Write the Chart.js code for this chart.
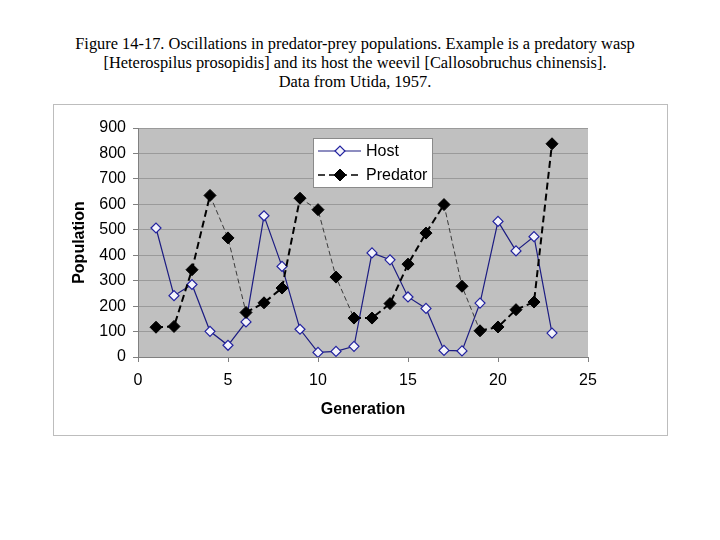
<!DOCTYPE html>
<html>
<head>
<meta charset="utf-8">
<title>Predator-prey oscillations</title>
<script src="https://cdn.jsdelivr.net/npm/chart.js@4.4.1/dist/chart.umd.min.js"></script>
<style>
    html, body { margin: 0; padding: 0; background: #fff; }
    #page { position: relative; width: 720px; height: 540px; overflow: hidden; }
    #caption {
        position: absolute; left: 0; top: 34px; width: 710px;
        text-align: center; font-family: "Liberation Serif", "Times New Roman", serif;
        font-size: 16.4px; line-height: 19px; color: #000;
    }
    #frame {
        position: absolute; left: 53px; top: 104px; width: 613px; height: 330px;
        border: 1px solid #bdbdbd;
    }
    #chart { position: absolute; left: 0; top: 0; }
</style>
</head>
<body>
<div id="page">
    <div id="caption">
        Figure 14-17. Oscillations in predator-prey populations. Example is a predatory wasp<br>
        [Heterospilus prosopidis] and its host the weevil [Callosobruchus chinensis].<br>
        Data from Utida, 1957.
    </div>
    <div id="frame"></div>
    <canvas id="chart" width="720" height="540"></canvas>
</div>
<script>
// Values
const generations = [1, 2, 3, 4, 5, 6, 7, 8, 9, 10, 11, 12, 13, 14, 15, 16, 17, 18, 19, 20, 21, 22, 23];
const hostValues = [507, 241, 285, 101, 46, 138, 555, 356, 109, 18, 22, 42, 409, 382, 236, 191, 26, 24, 212, 533, 417, 473, 94];
const predatorValues = [117, 120, 343, 635, 468, 175, 213, 271, 624, 579, 314, 153, 153, 210, 365, 487, 599, 278, 103, 118, 186, 216, 838];
const yTicks = [0, 100, 200, 300, 400, 500, 600, 700, 800, 900];
const xTicks = [0, 5, 10, 15, 20, 25];

const toPoints = (xs, ys) => xs.map((x, i) => ({ x: x, y: ys[i] }));

const FONT = '"Liberation Sans", Arial, sans-serif';
const HOST_COLOR = '#1c1c82';

// gray plot area like the old spreadsheet default
const plotBackground = {
    id: 'plotBackground',
    beforeDraw: (chart) => {
        const { ctx, chartArea: { left, top, right, bottom } } = chart;
        ctx.save();
        ctx.fillStyle = '#c0c0c0';
        ctx.fillRect(left, top, right - left, bottom - top);
        ctx.restore();
    }
};

// legend box sitting inside the plot area
const insideLegend = {
    id: 'insideLegend',
    afterDraw: (chart) => {
        const { ctx } = chart;
        const box = { x: 313, y: 138, w: 119, h: 49 };
        ctx.save();
        ctx.fillStyle = '#ffffff';
        ctx.fillRect(box.x, box.y, box.w, box.h);
        ctx.strokeStyle = '#8a8a8a';
        ctx.lineWidth = 1;
        ctx.strokeRect(box.x + 0.5, box.y + 0.5, box.w, box.h);

        chart.data.datasets.forEach((ds, i) => {
            const rowY = box.y + 13 + i * 24;
            ctx.save();
            ctx.strokeStyle = ds.borderColor;
            ctx.lineWidth = i === 0 ? 1.2 : 1.6;
            ctx.setLineDash(ds.borderDash || []);
            ctx.beginPath();
            ctx.moveTo(box.x + 5, rowY);
            ctx.lineTo(box.x + 48, rowY);
            ctx.stroke();
            ctx.restore();

            if (Chart.helpers && Chart.helpers.drawPoint) {
                ctx.save();
                ctx.fillStyle = ds.pointBackgroundColor;
                ctx.strokeStyle = ds.pointBorderColor;
                ctx.lineWidth = ds.pointBorderWidth;
                Chart.helpers.drawPoint(ctx, {
                    pointStyle: 'rectRot',
                    radius: ds.pointRadius,
                    rotation: 0,
                    borderWidth: ds.pointBorderWidth
                }, box.x + 27, rowY);
                ctx.restore();
            }

            ctx.fillStyle = '#000';
            ctx.font = '16px ' + FONT;
            ctx.textBaseline = 'middle';
            ctx.textAlign = 'left';
            ctx.fillText(ds.label, box.x + 53, rowY + 1);
        });
        ctx.restore();
    }
};

const config = {
    type: 'scatter',
    data: {
        datasets: [
            {
                label: 'Host',
                data: toPoints(generations, hostValues),
                showLine: true,
                borderColor: HOST_COLOR,
                borderWidth: 1.2,
                tension: 0,
                pointStyle: 'rectRot',
                pointRadius: 5,
                pointBorderWidth: 1.2,
                pointBackgroundColor: '#f4f4fb',
                pointBorderColor: '#2222a0',
                order: 2
            },
            {
                label: 'Predator',
                data: toPoints(generations, predatorValues),
                showLine: true,
                borderColor: '#000000',
                borderWidth: 2,
                borderDash: [7, 4],
                tension: 0,
                pointStyle: 'rectRot',
                pointRadius: 6,
                pointBorderWidth: 1,
                pointBackgroundColor: '#000000',
                pointBorderColor: '#000000',
                order: 1,
                // falling stretches come out thin and gray in the original scan
                segment: {
                    borderWidth: ctx => ctx.p1.parsed.y < ctx.p0.parsed.y - 40 ? 1 : 2,
                    borderColor: ctx => ctx.p1.parsed.y < ctx.p0.parsed.y - 40 ? '#3a3a3a' : '#000000',
                    borderDash: ctx => ctx.p1.parsed.y < ctx.p0.parsed.y - 40 ? [5, 3] : [7, 4]
                }
            }
        ]
    },
    options: {
        responsive: false,
        animation: false,
        layout: {
            padding: { left: 66, top: 128, right: 132, bottom: 117 }
        },
        scales: {
            x: {
                type: 'linear',
                min: 0,
                max: 25,
                afterBuildTicks: (scale) => { scale.ticks = xTicks.map(v => ({ value: v })); },
                afterFit: (scale) => { scale.height = 66; },
                grid: {
                    drawOnChartArea: false,
                    tickLength: 5,
                    tickColor: '#808080'
                },
                border: { color: '#808080', width: 1 },
                ticks: {
                    padding: 9,
                    color: '#000',
                    font: { family: FONT, size: 16 }
                },
                title: {
                    display: true,
                    text: 'Generation',
                    color: '#000',
                    font: { family: FONT, size: 16, weight: 'bold' }
                }
            },
            y: {
                type: 'linear',
                min: 0,
                max: 900,
                afterBuildTicks: (scale) => { scale.ticks = yTicks.map(v => ({ value: v })); },
                afterFit: (scale) => { scale.width = 72; },
                grid: {
                    color: '#9a9a9a',
                    tickColor: '#808080',
                    tickLength: 5
                },
                border: { color: '#808080', width: 1 },
                ticks: {
                    padding: 7,
                    color: '#000',
                    font: { family: FONT, size: 16 }
                },
                title: {
                    display: true,
                    text: 'Population',
                    color: '#000',
                    font: { family: FONT, size: 16, weight: 'bold' }
                }
            }
        },
        plugins: {
            legend: { display: false },
            tooltip: { enabled: false }
        }
    },
    plugins: [plotBackground, insideLegend]
};

new Chart(document.getElementById('chart').getContext('2d'), config);
</script>
</body>
</html>
